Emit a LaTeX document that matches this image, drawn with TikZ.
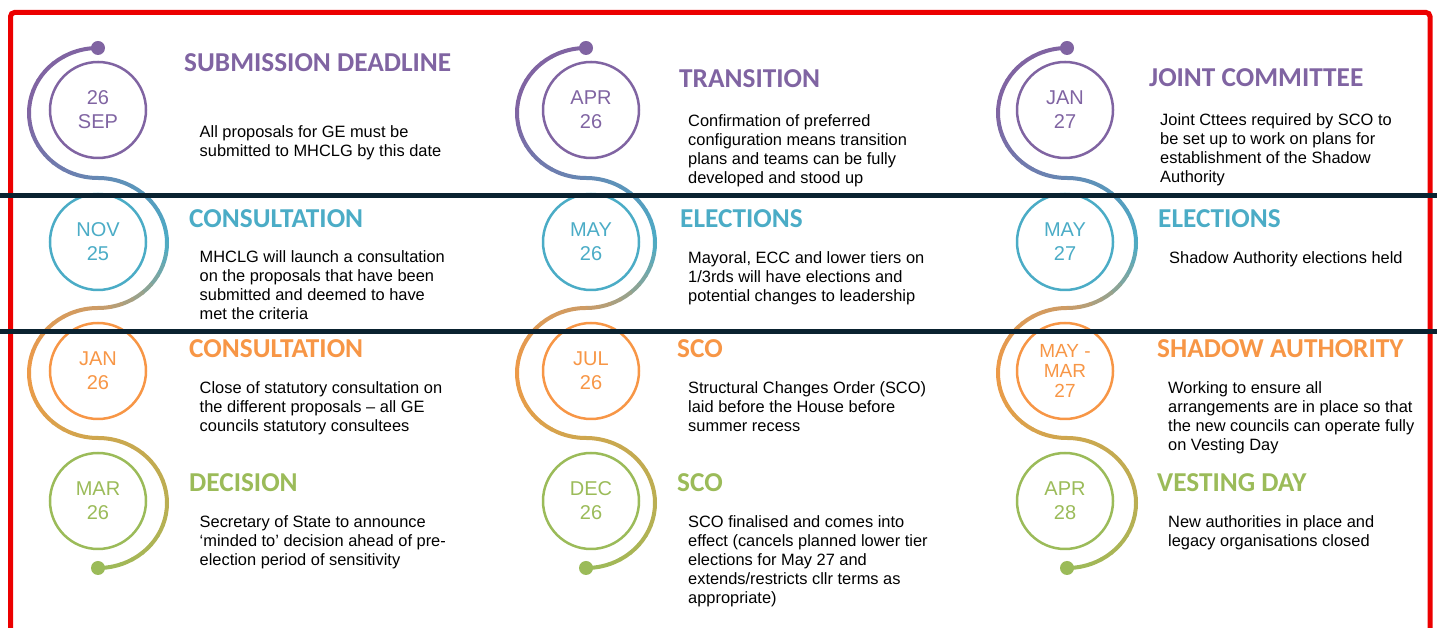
\documentclass[tikz,border=0pt]{standalone}
\usepackage{fontspec}
\setmainfont{Liberation Sans}
\newfontfamily\headfont{Carlito}

\definecolor{tlpurple}{HTML}{8064A2}
\definecolor{tlblue}{HTML}{4BACC6}
\definecolor{tlorange}{HTML}{F79646}
\definecolor{tlgreen}{HTML}{9BBB59}
\definecolor{framered}{RGB}{236,0,0}
\definecolor{rulenavy}{RGB}{10,34,48}

% colour stops along the winding line
\colorlet{tl0}{tlpurple}
\colorlet{tl1}{tlpurple}
\colorlet{tl2}{tlpurple!50!tlblue}
\colorlet{tl3}{tlblue}
\colorlet{tl4}{tlorange!75!tlblue}
\colorlet{tl5}{tlorange!90!tlgreen}
\colorlet{tl6}{tlorange!55!tlgreen}
\colorlet{tl7}{tlgreen!65!tlorange}
\colorlet{tl8}{tlgreen}

\tikzset{
  datering/.style={circle, draw=#1, text=#1, line width=2.5pt, minimum size=96pt,
    inner sep=0pt, align=center, font=\fontsize{20}{24}\selectfont},
  headline/.style={anchor=base west, inner sep=0pt, text=#1,
    font=\headfont\bfseries\fontsize{27.3}{31}\selectfont},
  bodytext/.style={anchor=north west, inner sep=0pt, align=left,
    font=\fontsize{16.4}{19}\selectfont},
  serpent/.style={line width=4pt, line cap=round},
}

\begin{document}
\begin{tikzpicture}[x=1pt,y=1pt]
\useasboundingbox (0,0) rectangle (1437,628);

% Winding line of each column, coloured piece by piece
\foreach \cx in {98,586,1067}{
  \foreach \k in {0,...,3}{
    \pgfmathsetmacro\cy{515-130*\k}
    \pgfmathsetmacro\dir{ifthenelse(mod(\k,2)==0,1,-1)}
    \foreach \j in {0,...,17}{
      \pgfmathsetmacro\a{90+\dir*10*\j}
      \pgfmathsetmacro\b{\a+\dir*10}
      \pgfmathtruncatemacro\ilo{2*\k+int(\j/9)}
      \pgfmathtruncatemacro\ihi{\ilo+1}
      \pgfmathtruncatemacro\p{100*(mod(\j,9)+0.5)/9}
      \draw[serpent, color=tl\ihi!\p!tl\ilo] ([shift={(\cx,\cy)}]\a:69pt and 65pt)
        arc[start angle=\a, end angle=\b, x radius=69pt, y radius=65pt];
    }
  }
  \fill[tlpurple] (\cx,580) circle (7pt);
  \fill[tlgreen] (\cx,60) circle (7pt);
}

% Date rings
\node[datering=tlpurple] (sep26) at (98,518) {26\\SEP};
\node[datering=tlblue] (nov25) at (98,386) {NOV\\25};
\node[datering=tlorange] (jan26) at (98,257) {JAN\\26};
\node[datering=tlgreen] (mar26) at (98,127) {MAR\\26};
\node[datering=tlpurple] (apr26) at (591,518) {APR\\26};
\node[datering=tlblue] (may26) at (591,386) {MAY\\26};
\node[datering=tlorange] (jul26) at (591,257) {JUL\\26};
\node[datering=tlgreen] (dec26) at (591,127) {DEC\\26};
\node[datering=tlpurple] (jan27) at (1065,518) {JAN\\27};
\node[datering=tlblue] (may27) at (1065,386) {MAY\\27};
\node[datering=tlorange, font=\fontsize{19}{20}\selectfont] (mar27) at (1065,257) {MAY -\\MAR\\27};
\node[datering=tlgreen] (apr28) at (1065,127) {APR\\28};

% Frame and row rules
\draw[framered, line width=5pt, rounded corners=4pt]
  (10.5,-10) -- (10.5,615.5) -- (1430,615.5) -- (1430,-10);
\draw[rulenavy, line width=5pt] (0,432) -- (1437,432);
\draw[rulenavy, line width=5pt] (0,296) -- (1437,296);

% First column
\node[headline=tlpurple] (ttldeadline) at (184,556) {SUBMISSION DEADLINE};
\node[bodytext] (txtdeadline) at (199.5,503) {All proposals for GE must be\\submitted to MHCLG by this date};
\node[headline=tlblue] (ttlconsult) at (189,400) {CONSULTATION};
\node[bodytext] (txtconsult) at (199.5,378) {MHCLG will launch a consultation\\on the proposals that have been\\submitted and deemed to have\\met the criteria};
\node[headline=tlorange] (ttlclose) at (189,270) {CONSULTATION};
\node[bodytext] (txtclose) at (199.5,247) {Close of statutory consultation on\\the different proposals – all GE\\councils statutory consultees};
\node[headline=tlgreen] (ttldecision) at (189,136) {DECISION};
\node[bodytext] (txtdecision) at (199.5,113) {Secretary of State to announce\\‘minded to’ decision ahead of pre-\\election period of sensitivity};

% Second column
\node[headline=tlpurple] (ttltransition) at (679,540) {TRANSITION};
\node[bodytext] (txttransition) at (688,514) {Confirmation of preferred\\configuration means transition\\plans and teams can be fully\\developed and stood up};
\node[headline=tlblue] (ttlelect) at (680,400) {ELECTIONS};
\node[bodytext] (txtelect) at (688,377) {Mayoral, ECC and lower tiers on\\1/3rds will have elections and\\potential changes to leadership};
\node[headline=tlorange] (ttlscolaid) at (677,270) {SCO};
\node[bodytext] (txtscolaid) at (688,247) {Structural Changes Order (SCO)\\laid before the House before\\summer recess};
\node[headline=tlgreen] (ttlscofinal) at (677,136) {SCO};
\node[bodytext] (txtscofinal) at (688,113) {SCO finalised and comes into\\effect (cancels planned lower tier\\elections for May 27 and\\extends/restricts cllr terms as\\appropriate)};

% Third column
\node[headline=tlpurple] (ttljoint) at (1149,541) {JOINT COMMITTEE};
\node[bodytext] (txtjoint) at (1160,515) {Joint Cttees required by SCO to\\be set up to work on plans for\\establishment of the Shadow\\Authority};
\node[headline=tlblue] (ttlshadowvote) at (1158,400) {ELECTIONS};
\node[bodytext] (txtshadowvote) at (1169,377) {Shadow Authority elections held};
\node[headline=tlorange] (ttlshadow) at (1157,270) {SHADOW AUTHORITY};
\node[bodytext] (txtshadow) at (1168,247) {Working to ensure all\\arrangements are in place so that\\the new councils can operate fully\\on Vesting Day};
\node[headline=tlgreen] (ttlvesting) at (1157,136) {VESTING DAY};
\node[bodytext] (txtvesting) at (1168,113) {New authorities in place and\\legacy organisations closed};
\end{tikzpicture}
\end{document}
